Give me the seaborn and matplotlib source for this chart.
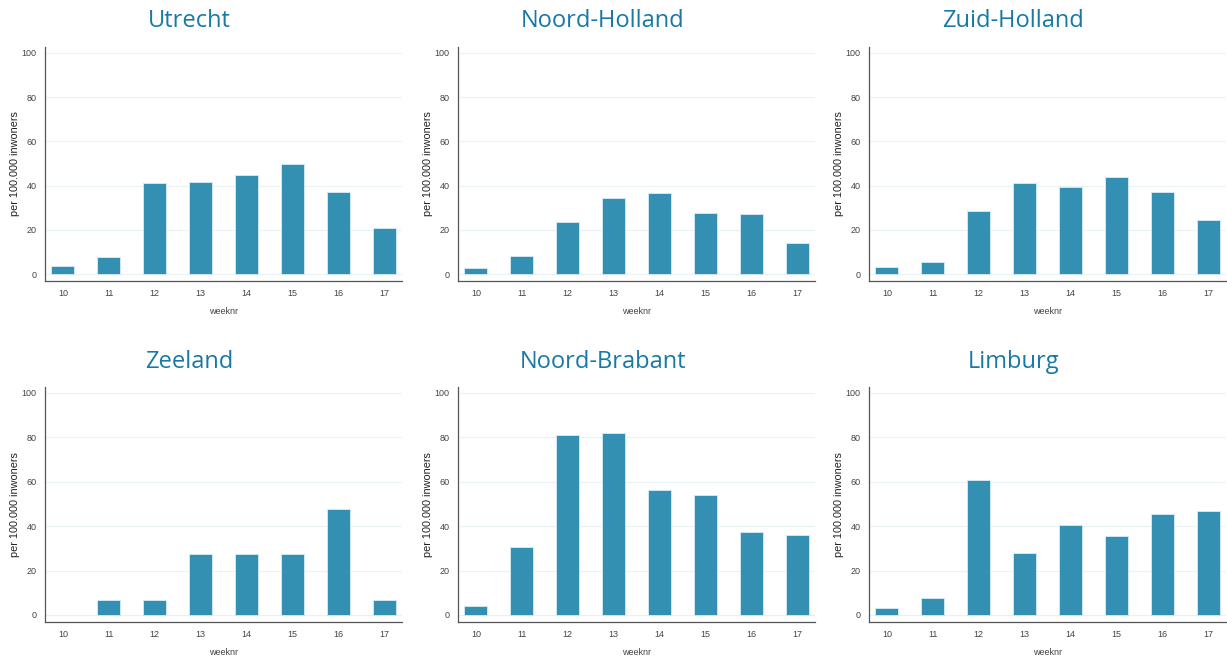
import matplotlib
matplotlib.use("Agg")
import matplotlib.pyplot as plt
import seaborn as sns
import pandas as pd

weeks = [10, 11, 12, 13, 14, 15, 16, 17]
provinces = ["Utrecht", "Noord-Holland", "Zuid-Holland", "Zeeland", "Noord-Brabant", "Limburg"]
utrecht = [3.5, 7.5, 41.2, 41.8, 45.0, 49.8, 37.0, 20.7]
noord_holland = [2.6, 8.1, 23.7, 34.2, 36.7, 27.6, 27.1, 14.2]
zuid_holland = [3.2, 5.3, 28.5, 41.2, 39.4, 43.7, 37.1, 24.3]
zeeland = [0.0, 6.8, 6.8, 27.3, 27.3, 27.3, 47.6, 6.8]
noord_brabant = [4.1, 30.6, 81.3, 81.8, 56.5, 54.1, 37.5, 36.1]
limburg = [3.2, 7.8, 61.0, 28.0, 40.7, 35.4, 45.3, 46.8]
series = [utrecht, noord_holland, zuid_holland, zeeland, noord_brabant, limburg]
yticks = [0, 20, 40, 60, 80, 100]

sns.set_theme(style="white")
plt.rcParams['font.family'] = ['Liberation Sans', 'DejaVu Sans']

W, H = 1227, 659
fig = plt.figure(figsize=(W / 100, H / 100), dpi=100)

lefts = [45, 458, 869]
tops = [47, 387]
bottoms = [281, 622]
axw = 357
title_y = [21, 362]
title_dx = -34

bar_color = "#3390b3"
title_color = "#1879a5"

for i, (name, vals) in enumerate(zip(provinces, series)):
    r, c = divmod(i, 3)
    l = lefts[c]
    t = tops[r]
    b = bottoms[r]
    ax = fig.add_axes([l / W, 1 - b / H, axw / W, (b - t) / H])
    df = pd.DataFrame({"weeknr": weeks, "value": vals})
    sns.barplot(data=df, x="weeknr", y="value", ax=ax, color=bar_color,
                width=0.5, edgecolor="#cfe7f0", linewidth=0.7, saturation=1)
    for p in ax.patches:
        if p.get_height() == 0:
            p.set_linewidth(0)
    ax.set_xlim(-0.39, 7.39)
    hpx = b - t
    ppu = (hpx - 13) / 100.0
    ax.set_ylim(-7 / ppu, 100 + 6 / ppu)
    ax.set_yticks(yticks)
    ax.yaxis.grid(True, color="#e8f1f3", linewidth=0.8)
    ax.set_axisbelow(True)
    for s in ["top", "right"]:
        ax.spines[s].set_visible(False)
    for s in ["left", "bottom"]:
        ax.spines[s].set_color("#555555")
        ax.spines[s].set_linewidth(0.9)
    ax.tick_params(axis="both", which="both", direction="out", length=3.5,
                   width=0.7, color="#555555", labelsize=6.5, labelcolor="#444444", pad=2.5)
    ax.tick_params(axis="x", pad=2)
    ax.set_xlabel("weeknr", fontsize=6.5, color="#444444", labelpad=6.5)
    ax.set_ylabel("per 100.000 inwoners", fontsize=7.8, color="#222222", labelpad=1.5)
    cx = l + axw / 2 + title_dx
    fig.text(cx / W, 1 - title_y[r] / H, name, ha="center", va="center",
             fontsize=17, color=title_color, family=["Open Sans", "DejaVu Sans"])

fig.savefig("out.png", dpi=100, facecolor="white")
